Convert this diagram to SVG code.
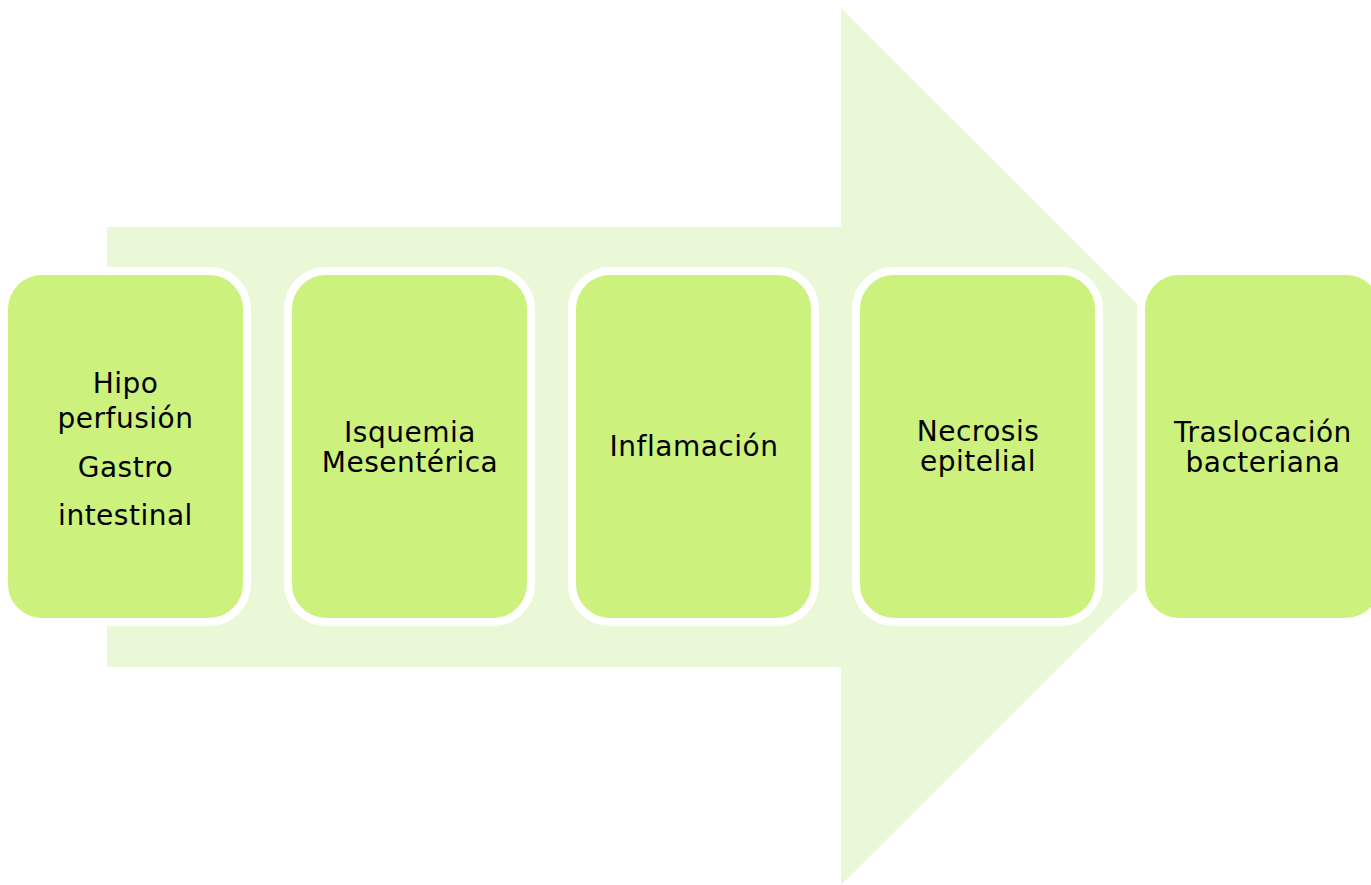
<svg xmlns="http://www.w3.org/2000/svg" width="1371" height="885" viewBox="0 0 1371 885">
<style>
.box{fill:#CCF17C;stroke:#FFFFFF;stroke-width:8}
.t{font-family:"DejaVu Sans","Verdana",sans-serif;font-size:28px;fill:#000000;text-anchor:middle;letter-spacing:0.5px}
</style>
<rect width="1371" height="885" fill="#FFFFFF"/>
<g id="arrow">
<polygon points="107,227 841,227 841,8 1280,446.5 841,885 841,667 107,667" fill="#EAF8D7"/>
</g>
<g id="connectors"></g>
<g id="n1">
<rect class="box" x="4" y="271" width="243" height="351" rx="38" ry="38"/>
<text class="t" x="125.5" y="393">Hipo</text>
<text class="t" x="125.5" y="428">perfusión</text>
<text class="t" x="125.5" y="477">Gastro</text>
<text class="t" x="125.5" y="525">intestinal</text>
</g>
<g id="n2">
<rect class="box" x="288" y="271" width="243" height="351" rx="38" ry="38"/>
<text class="t" x="410" y="442">Isquemia</text>
<text class="t" x="410" y="472">Mesentérica</text>
</g>
<g id="n3">
<rect class="box" x="572" y="271" width="243" height="351" rx="38" ry="38"/>
<text class="t" x="694" y="456">Inflamación</text>
</g>
<g id="n4">
<rect class="box" x="856" y="271" width="243" height="351" rx="38" ry="38"/>
<text class="t" x="978" y="441">Necrosis</text>
<text class="t" x="978" y="471">epitelial</text>
</g>
<g id="n5">
<rect class="box" x="1141" y="271" width="243" height="351" rx="38" ry="38"/>
<text class="t" x="1263" y="442">Traslocación</text>
<text class="t" x="1263" y="472">bacteriana</text>
</g>
</svg>
